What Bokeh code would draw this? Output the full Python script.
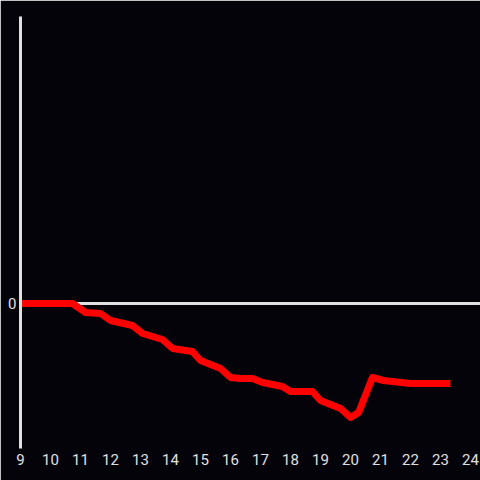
from bokeh.plotting import figure
from bokeh.models import Span, FixedTicker, Range1d
from bokeh.embed import file_html
from bokeh.resources import INLINE

hours = [9.0, 10.73, 11.17, 11.67, 12.0, 12.73, 13.07, 13.73, 14.07, 14.73, 15.0, 15.67,
         16.0, 16.33, 16.73, 17.07, 17.73, 18.0, 18.73, 19.0, 19.67, 20.0, 20.27, 20.73,
         21.1, 22.0, 23.33]
values = [0.0, 0.0, -0.09, -0.10, -0.17, -0.22, -0.30, -0.36, -0.45, -0.48, -0.57, -0.65,
          -0.74, -0.75, -0.75, -0.79, -0.83, -0.88, -0.88, -0.97, -1.05, -1.14, -1.09, -0.74,
          -0.77, -0.80, -0.80]
x_ticks = list(range(9, 25))
y_ticks = [0]

BG = "#05030a"
FG = "#e0e0e0"
FONT = "Roboto"

p = figure(width=480, height=480, output_backend="svg", toolbar_location=None,
           x_range=Range1d(9, 24.333), y_range=Range1d(-1.45, 2.87),
           background_fill_color=BG, border_fill_color=BG,
           min_border_left=20, min_border_right=0, min_border_top=16, min_border_bottom=32)
p.outline_line_color = BG
p.outline_line_width = 2
p.grid.visible = False

p.xaxis.ticker = FixedTicker(ticks=x_ticks)
p.xaxis.axis_line_color = None
p.xaxis.major_tick_line_color = None
p.xaxis.minor_tick_line_color = None
p.xaxis.major_tick_out = 0
p.xaxis.major_tick_in = 0
p.xaxis.major_label_text_color = FG
p.xaxis.major_label_text_font = FONT
p.xaxis.major_label_text_font_size = "15px"
p.xaxis.major_label_standoff = 5

p.yaxis.ticker = FixedTicker(ticks=y_ticks)
p.yaxis.axis_line_color = FG
p.yaxis.axis_line_width = 3
p.yaxis.major_tick_line_color = None
p.yaxis.minor_tick_line_color = None
p.yaxis.major_tick_out = 0
p.yaxis.major_tick_in = 0
p.yaxis.major_label_text_color = FG
p.yaxis.major_label_text_font = FONT
p.yaxis.major_label_text_font_size = "15px"
p.yaxis.major_label_standoff = 4

p.add_layout(Span(location=0, dimension="width", line_color=FG, line_width=3, level="underlay"))

p.line(hours, values, line_color="#ff0000", line_width=7, line_join="round")

open("out.html", "w").write(file_html(p, INLINE))
